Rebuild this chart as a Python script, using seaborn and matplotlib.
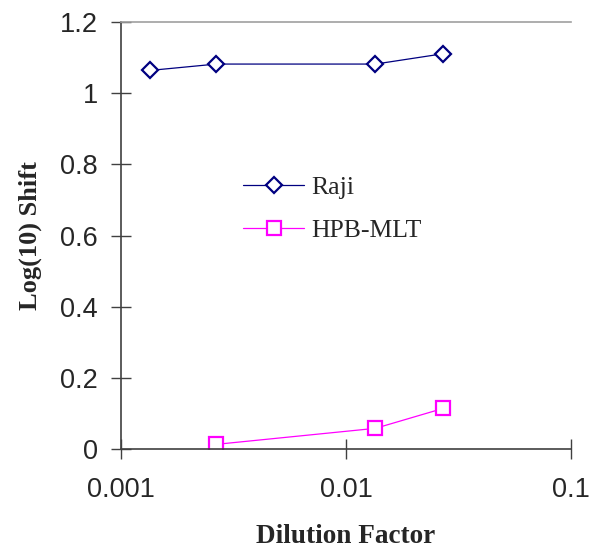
import numpy as np
import pandas as pd
import seaborn as sns
import matplotlib.pyplot as plt
from matplotlib.ticker import FixedLocator, FuncFormatter, NullLocator

# data
raji_dilution = [0.00134, 0.00265, 0.0135, 0.027]
raji_shift = [1.064, 1.082, 1.082, 1.111]

hpb_dilution = [0.00265, 0.0135, 0.027]
hpb_shift = [0.013, 0.058, 0.114]

x_ticks = [0.001, 0.01, 0.1]
y_ticks = [0, 0.2, 0.4, 0.6, 0.8, 1.0, 1.2]

sns.set_theme(style="white")
plt.rcParams["font.family"] = ["Liberation Sans", "DejaVu Sans"]

df_raji = pd.DataFrame({"x": raji_dilution, "y": raji_shift})
df_hpb = pd.DataFrame({"x": hpb_dilution, "y": hpb_shift})

fig = plt.figure(figsize=(6.05, 5.48), dpi=100)
ax = fig.add_axes([0.2, 0.1807, 0.744, 0.779])

sns.lineplot(data=df_raji, x="x", y="y", ax=ax, color="#000080", lw=0.9,
             marker="D", markersize=8, markerfacecolor="white",
             markeredgecolor="#000080", markeredgewidth=1.6, label="Raji")
sns.lineplot(data=df_hpb, x="x", y="y", ax=ax, color="#FF00FF", lw=0.9,
             marker="s", markersize=10, markerfacecolor="white",
             markeredgecolor="#FF00FF", markeredgewidth=1.6, label="HPB-MLT")

ax.set_xscale("log")
ax.set_xlim(0.001, 0.1)
ax.set_ylim(0, 1.2)
ax.xaxis.set_major_locator(FixedLocator(x_ticks))
ax.xaxis.set_minor_locator(NullLocator())
ax.xaxis.set_major_formatter(FuncFormatter(lambda v, p: f"{v:g}"))
ax.set_yticks(y_ticks)
ax.yaxis.set_major_formatter(FuncFormatter(lambda v, p: f"{v:g}"))

ax.tick_params(axis="both", which="major", direction="inout", length=14,
               width=1, color="#404040", labelsize=19.5, left=True, bottom=True)
ax.tick_params(axis="y", pad=9.5)
ax.tick_params(axis="x", pad=13)

for s in ["left", "bottom"]:
    ax.spines[s].set_color("#404040")
    ax.spines[s].set_linewidth(1.2)
ax.spines["top"].set_color("#a0a0a0")
ax.spines["top"].set_linewidth(1.2)
ax.spines["right"].set_visible(False)

ax.set_xlabel("Dilution Factor", fontsize=19.6, fontweight="bold",
              family="Liberation Serif")
ax.set_ylabel("Log(10) Shift", fontsize=19, fontweight="bold",
              family="Liberation Serif")
ax.xaxis.set_label_coords(0.5, -0.176)
ax.yaxis.set_label_coords(-0.176, 0.5)

ax.legend(loc="center left", bbox_to_anchor=(0.219, 0.562), frameon=False,
          prop={"family": "Liberation Serif", "size": 18.5},
          handlelength=2.4, handletextpad=0.25, labelspacing=0.75)

plt.savefig("out.png", dpi=100)
plt.close()
